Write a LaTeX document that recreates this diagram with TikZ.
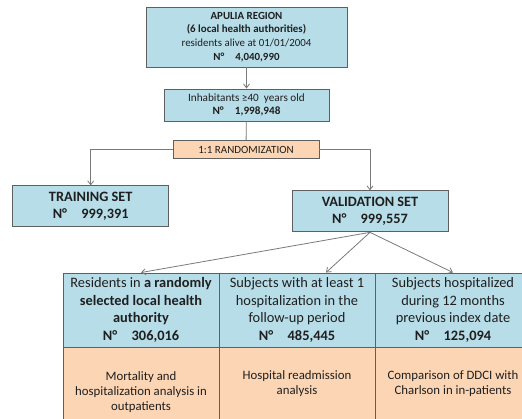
\documentclass[tikz,border=0pt]{standalone}
\usepackage{fontspec}
\setmainfont{Carlito}
\usetikzlibrary{arrows.meta,positioning}
\definecolor{boxblue}{HTML}{B7DDE8}
\definecolor{boxorange}{HTML}{FCD5B4}
\definecolor{edgegray}{HTML}{5F5F5F}
\definecolor{linegray}{HTML}{7A7A7A}

\begin{document}
\begin{tikzpicture}[x=1pt,y=-1pt,
    >={Straight Barb[length=4pt,width=6pt]},
    conn/.style={draw=linegray,line width=0.8pt},
    bluebox/.style={draw=edgegray,fill=boxblue,line width=0.9pt,align=center,inner sep=1pt,text=black!88},
    orangebox/.style={draw=edgegray,fill=boxorange,line width=0.9pt,align=center,inner sep=1pt,text=black!88},
    small/.style={font=\fontsize{10.9}{13.7}\selectfont},
    big/.style={font=\fontsize{14.3}{17.7}\selectfont\bfseries},
    cell/.style={font=\fontsize{14.4}{17.5}\selectfont,minimum width=156pt},
    note/.style={font=\fontsize{12.8}{15}\selectfont,minimum width=156pt}]
% ===== fixed frame =====
\useasboundingbox (0,0) rectangle (522,419);
% ===== top of the flow =====
\node[bluebox,small,minimum width=201pt,minimum height=60pt] (apulia) at (246.5,37)
  {\textbf{APULIA REGION}\\ \textbf{(6 local health authorities)}\\ residents alive at 01/01/2004\\ \textbf{N°\quad 4,040,990}};
\node[bluebox,font=\fontsize{11.2}{13.7}\selectfont,minimum width=165pt,minimum height=32pt] (inhab) at (246.5,105)
  {Inhabitants ≥40\ \ years old\\ \textbf{N°\quad 1,998,948}};
\node[orangebox,font=\fontsize{11}{12}\selectfont,minimum width=146pt,minimum height=17.5pt] (rand) at (246,149.5)
  {1:1 RANDOMIZATION};
% ===== the two sets =====
\node[bluebox,big,minimum width=156pt,minimum height=41pt] (train) at (90.7,206.4)
  {TRAINING SET\\ N°\quad 999,391};
\node[bluebox,big,minimum width=156pt,minimum height=41pt] (valid) at (370,211.4)
  {VALIDATION SET\\ N°\quad 999,557};
% ===== sub-cohorts and analyses =====
\node[bluebox,cell,minimum height=74pt] (res1) at (141,310)
  {Residents in \textbf{a randomly}\\ \textbf{selected local health}\\ \textbf{authority}\\ \textbf{N°\quad 306,016}};
\node[bluebox,cell,minimum height=74pt] (res2) at (297,310)
  {Subjects with at least 1\\ hospitalization in the\\ follow-up period\\ \textbf{N°\quad 485,445}};
\node[bluebox,cell,minimum height=74pt] (res3) at (453,310)
  {Subjects hospitalized\\ during 12 months\\ previous index date\\ \textbf{N°\quad 125,094}};
\node[orangebox,note,minimum height=88pt,anchor=north] (ana1) at (res1.south)
  {Mortality and\\ hospitalization analysis in\\ outpatients};
\node[orangebox,note,minimum height=88pt,anchor=north] (ana2) at (res2.south)
  {Hospital readmission\\ analysis\\ \strut};
\node[orangebox,note,minimum height=88pt,anchor=north] (ana3) at (res3.south)
  {Comparison of DDCI with\\ Charlson in in-patients\\ \strut};
% ===== connectors =====
\draw[conn,->] (apulia) -- (inhab);
\draw[conn] (inhab) -- (rand);
\draw[conn,->] (rand.west) -| (train.north);
\draw[conn,->] (rand.east) -| (valid.north);
\draw[conn,->] (valid.south) -- (res1.north);
\draw[conn,->] (valid.south) -- ([xshift=29pt]res2.north);
\draw[conn,->] (valid.south) -- (res3.north);
\end{tikzpicture}
\end{document}
